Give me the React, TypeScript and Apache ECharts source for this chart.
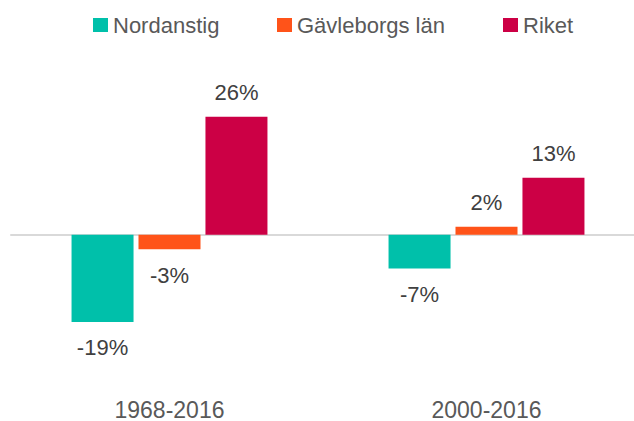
import React, { useEffect, useRef } from "react";
import * as echarts from "echarts";

const categories = ["1968-2016", "2000-2016"];
const seriesNames = ["Nordanstig", "Gävleborgs län", "Riket"];
const nordanstig = [-19.2, -7.4];
const gavleborg = [-3.2, 1.8];
const riket = [26.0, 12.6];
const seriesValues = [nordanstig, gavleborg, riket];
const colors = ["#00C0AA", "#FF5319", "#CC0045"];
const legendLeft = [93, 277, 503];

export default function App() {
  const ref = useRef<HTMLDivElement>(null);
  useEffect(() => {
    if (!ref.current) return;
    const chart = echarts.init(ref.current, undefined, { renderer: "svg" });
    const font = "'Liberation Sans', Arial, sans-serif";
    const series = seriesNames.map((name, i) => ({
      name,
      type: "bar",
      xAxisIndex: 0,
      barWidth: 62,
      barGap: "8%",
      itemStyle: { color: colors[i] },
      data: seriesValues[i].map((v) => ({
        value: v,
        label: {
          show: true,
          position: v >= 0 ? "top" : "bottom",
          distance: v >= 0 ? 13 : 15,
        },
      })),
      label: {
        show: true,
        fontSize: 22,
        fontFamily: font,
        color: "#404040",
        formatter: (p: any) => Math.round(p.value) + "%",
      },
    }));
    chart.setOption({
      animation: false,
      legend: seriesNames.map((name, i) => ({
        data: [name],
        left: legendLeft[i],
        top: 14,
        padding: 0,
        icon: "rect",
        itemWidth: 15,
        itemHeight: 14,
        textStyle: { fontSize: 22, fontFamily: font, color: "#595959" },
        selectedMode: false,
      })),
      grid: { left: 11, right: 15, top: 76, bottom: 46, containLabel: false },
      xAxis: [
        {
          type: "category",
          data: categories,
          position: "bottom",
          axisLine: { show: true, onZero: true, lineStyle: { color: "#D9D9D9", width: 2 } },
          axisTick: { show: false },
          axisLabel: { show: false },
        },
        {
          type: "category",
          data: categories,
          position: "bottom",
          axisLine: { show: false, onZero: false },
          axisTick: { show: false },
          axisLabel: {
            show: true,
            margin: 27,
            fontSize: 23,
            fontFamily: font,
            color: "#595959",
          },
        },
      ],
      yAxis: {
        type: "value",
        min: -30,
        max: 35,
        show: false,
        splitLine: { show: false },
      },
      series,
    });
    return () => chart.dispose();
  }, []);
  return (
    <div
      style={{ position: "fixed", left: 0, top: 0, width: 634, height: 421, overflow: "hidden", background: "#fff" }}
    >
      <div ref={ref} style={{ width: 660, height: 421 }} />
    </div>
  );
}
